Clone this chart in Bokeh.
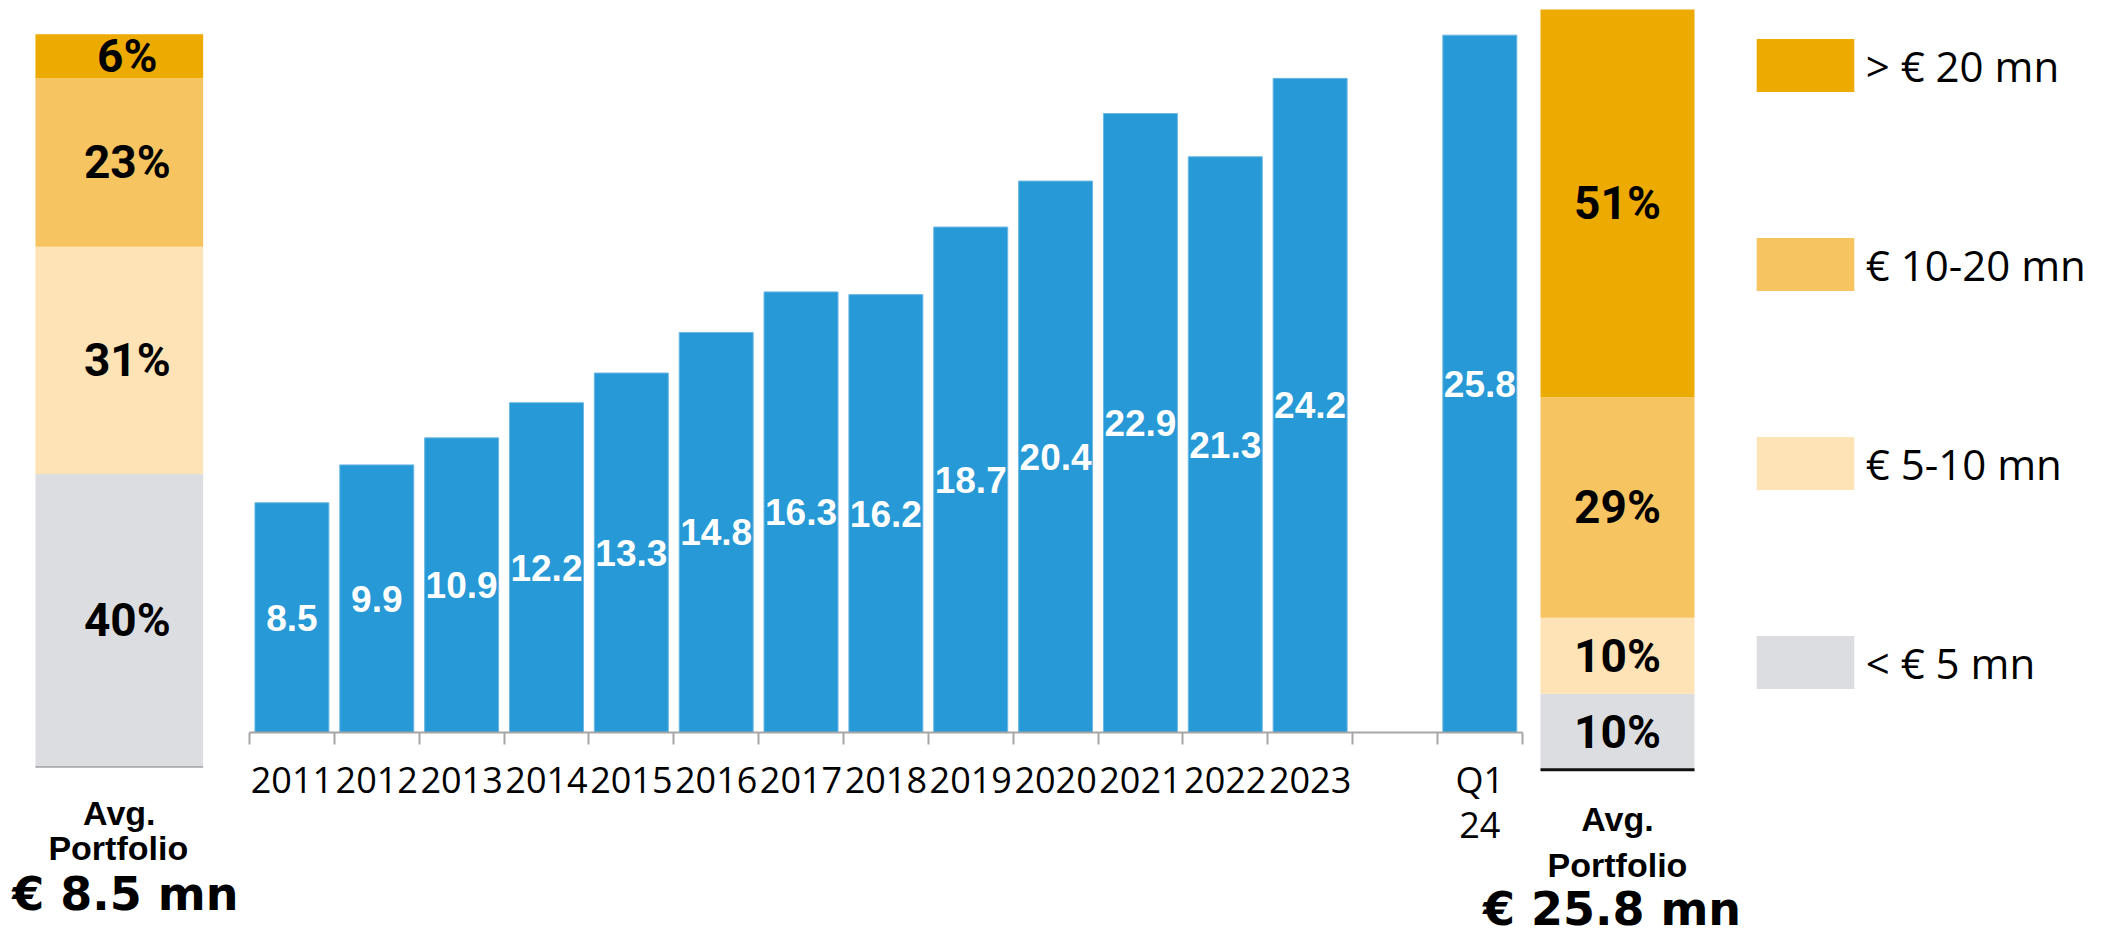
import numpy as np
from bokeh.plotting import figure
from bokeh.models import (ColumnDataSource, Range1d, LinearAxis, FixedTicker,
                          Legend, LegendItem)
from bokeh.core.properties import value
from bokeh.embed import file_html
from bokeh.resources import INLINE

# ---------------- data ----------------
years = ["2011", "2012", "2013", "2014", "2015", "2016", "2017", "2018",
         "2019", "2020", "2021", "2022", "2023"]
latest_label = "Q1\n24"
categories = years + [latest_label]
avg_portfolio = [8.5, 9.9, 10.9, 12.2, 13.3, 14.8, 16.3, 16.2, 18.7, 20.4,
                 22.9, 21.3, 24.2, 25.8]

bucket_keys = ["lt5", "b5_10", "b10_20", "gt20"]            # bottom -> top
bucket_labels = ["< € 5 mn", "€ 5-10 mn", "€ 10-20 mn", "> € 20 mn"]
share_2011 = [40, 31, 23, 6]
share_q1_24 = [10, 10, 29, 51]
avg_text_2011 = "€ 8.5 mn"
avg_text_q1_24 = "€ 25.8 mn"
avg_caption = ["Avg.", "Portfolio"]

# ---------------- styles ----------------
bucket_colors = ["#DCDDE1", "#FEE3B6", "#F7C462", "#EDAA00"]
BAR_BLUE = "#2699D6"
AXIS_GREY = "#A6A6A6"

# ---------------- layout geometry (figure pixels) ----------------
FIG_W, FIG_H = 2112, 938

def lin_range(origin_px, px_per_unit, total_px, flip=False):
    """Range so that data value 0 sits at origin_px (px from left / from top)."""
    if flip:  # vertical: origin measured from top, values grow upward
        return Range1d(-(total_px - origin_px) / px_per_unit, origin_px / px_per_unit)
    return Range1d(-origin_px / px_per_unit, (total_px - origin_px) / px_per_unit)

# main bar chart: slot 0 starts at 249 px, each slot 84.85 px; baseline 732 px from top
main_x = lin_range(249, 84.85, FIG_W)
main_y = lin_range(732, 27.03, FIG_H, flip=True)

p = figure(width=FIG_W, height=FIG_H, x_range=main_x, y_range=main_y,
           x_axis_type=None, y_axis_type=None, toolbar_location=None,
           output_backend="svg", min_border=0, min_border_left=0,
           min_border_right=0, min_border_top=0, min_border_bottom=0)
p.outline_line_color = None
p.background_fill_color = "white"
p.border_fill_color = "white"

# stacked share bars, each in its own coordinate system (bar width = 1 unit, height in %)
p.extra_x_ranges = {
    "left": Range1d(-118.8 / 167.7, (FIG_W - 118.8) / 167.7),
    "right": Range1d(-1617.0 / 154.0, (FIG_W - 1617.0) / 154.0),
}
p.extra_y_ranges = {
    "left": lin_range(766.5, 7.328, FIG_H, flip=True),
    "right": lin_range(769.3, 7.603, FIG_H, flip=True),
}

# ---------------- main bars ----------------
slots = list(range(len(years))) + [len(years) + 1]   # one empty slot before Q1 24
n_slots = len(years) + 2
centers = [s + 0.5 for s in slots]
vals = np.array(avg_portfolio)
main_src = ColumnDataSource(dict(x=centers, top=vals, mid=vals / 2,
                                 lab=[f"{v:.1f}" for v in vals]))
p.vbar(x="x", top="top", width=0.872, source=main_src, fill_color=BAR_BLUE,
       line_color="#6DB8E4", line_width=1)
p.text(x="x", y="mid", text="lab", source=main_src, text_align="center",
       text_baseline="middle", text_color="white", text_font=value("Liberation Sans"),
       text_font_style="bold", text_font_size="37px")

ticker = FixedTicker(ticks=centers, minor_ticks=list(range(n_slots + 1)))
xaxis = LinearAxis(ticker=ticker, fixed_location=0, bounds=(0, n_slots),
                   major_label_overrides={c: lab for c, lab in zip(centers, categories)})
xaxis.major_tick_out = 0
xaxis.major_tick_in = 0
xaxis.major_tick_line_color = None
xaxis.minor_tick_out = 12
xaxis.minor_tick_in = 0
xaxis.minor_tick_line_color = AXIS_GREY
xaxis.minor_tick_line_width = 2
xaxis.axis_line_color = AXIS_GREY
xaxis.axis_line_width = 2
xaxis.major_label_text_font = "Open Sans"
xaxis.major_label_text_font_size = "36px"
xaxis.major_label_text_color = "black"
xaxis.major_label_text_line_height = 0.92
xaxis.major_label_standoff = 10
p.add_layout(xaxis, "below")

# ---------------- stacked share bars ----------------
def share_stack(shares, name, pct_offset_x, base_color, base_width):
    src = ColumnDataSource(dict(x=[0], **{k: [s] for k, s in zip(bucket_keys, shares)}))
    rs = p.vbar_stack(bucket_keys, x="x", width=1, color=bucket_colors, source=src,
                      line_color=None, x_range_name=name, y_range_name=name)
    s = np.array(shares, dtype=float)
    mids = np.cumsum(s) - s / 2
    lab_src = ColumnDataSource(dict(x=[0] * len(s), y=mids, t=[f"{int(v)}%" for v in s]))
    p.text(x="x", y="y", text="t", source=lab_src, x_range_name=name, y_range_name=name,
           text_align="center", text_baseline="middle", text_color="black",
           text_font=value("Roboto"), text_font_style="bold",
           text_font_size="46px", x_offset=pct_offset_x)
    p.segment(x0=[-0.5], x1=[0.5], y0=[0], y1=[0], x_range_name=name, y_range_name=name,
              line_color=base_color, line_width=base_width)
    return rs

left_rs = share_stack(share_2011, "left", 8, "#A0A0A0", 1.5)
right_rs = share_stack(share_q1_24, "right", 0, "#111111", 3)

def caption(name, amount, offsets):
    (dx1, dy1), (dx2, dy2), (dx3, dy3) = offsets
    for txt, dx, dy in ((avg_caption[0], dx1, dy1), (avg_caption[1], dx2, dy2)):
        p.text(x=[0], y=[0], text=[txt], x_range_name=name, y_range_name=name,
               x_offset=dx, y_offset=dy, text_align="center", text_baseline="middle",
               text_color="black", text_font=value("Liberation Sans"),
               text_font_style="bold", text_font_size="34px")
    p.text(x=[0], y=[0], text=[amount], x_range_name=name, y_range_name=name,
           x_offset=dx3, y_offset=dy3, text_align="center", text_baseline="middle",
           text_color="black", text_font=value("DejaVu Sans"),
           text_font_style="bold", text_font_size="46px")

caption("left", avg_text_2011, [(0, 46), (-1, 81), (6, 127)])
caption("right", avg_text_q1_24, [(0, 48.7), (0, 94.7), (-5.5, 139)])

# ---------------- legend ----------------
legend = Legend(
    items=[LegendItem(label=bucket_labels[i], renderers=[right_rs[i]])
           for i in reversed(range(len(bucket_keys)))],
    location=(1743.75, FIG_H - 695.4), orientation="vertical",
    glyph_width=122, glyph_height=66, label_height=66, spacing=133,
    padding=0, margin=0, label_standoff=0,
    label_text_font="Open Sans", label_text_font_size="42px",
    label_text_color="black", border_line_color=None, background_fill_alpha=0,
)
p.add_layout(legend)

open("out.html", "w").write(file_html(p, INLINE))
